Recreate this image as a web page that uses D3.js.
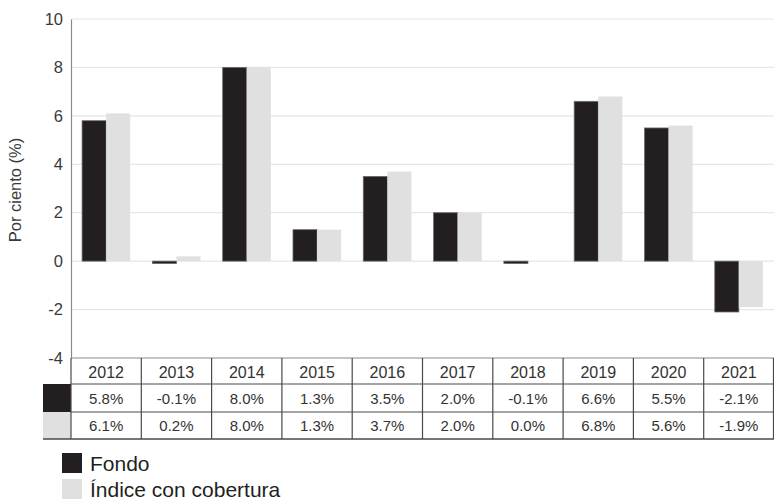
<!DOCTYPE html>
<html><head><meta charset="utf-8">
<script src="https://cdn.jsdelivr.net/npm/d3@7"></script>
<style>body{margin:0;background:#fff}svg{display:block;font-family:Arial,"Liberation Sans",sans-serif}</style>
</head><body>
<svg id="c" width="774" height="500"></svg>
<script>
const years = ["2012","2013","2014","2015","2016","2017","2018","2019","2020","2021"];
const fondo = [5.8,-0.1,8.0,1.3,3.5,2.0,-0.1,6.6,5.5,-2.1];
const indice = [6.1,0.2,8.0,1.3,3.7,2.0,0.0,6.8,5.6,-1.9];
const yTicks = [-4,-2,0,2,4,6,8,10];
const seriesNames = ["Fondo","Índice con cobertura"];
const colors = ["#231f20","#e0e0e0"];

(function(){
const svg = d3.select("#c");
const pLeft = 71, pRight = 774, pTop = 19, pBottom = 358;
const x = d3.scaleBand().domain(years).range([pLeft, pRight]);
const y = d3.scaleLinear().domain([-4,10]).range([pBottom, pTop]);
const inner = d3.scaleBand().domain([0,1]).range([0, x.bandwidth()]).paddingOuter(0.46).paddingInner(0);
const fmtTick = d => String(d).replace("\u2212","-");
const fmtVal = d => d3.format(".1f")(d).replace("\u2212","-") + "%";

// grid
svg.append("g").selectAll("line").data(yTicks.filter(t=>t>-4)).join("line")
  .attr("x1", pLeft).attr("x2", pRight).attr("y1", d=>y(d)).attr("y2", d=>y(d))
  .attr("stroke", "#e6e6e6").attr("stroke-width", 1.2);

// bars
const series = [fondo, indice];
series.forEach((vals, si) => {
  svg.append("g").selectAll("rect").data(vals).join("rect")
    .attr("x", (d,i)=>x(years[i]) + inner(si))
    .attr("width", inner.bandwidth())
    .attr("y", d=>y(Math.max(0,d)))
    .attr("height", d=>Math.abs(y(d)-y(0)))
    .attr("fill", colors[si])
    .attr("stroke", si===0 ? "#6e6b6b" : "none")
    .attr("stroke-width", si===0 ? 0.8 : 0);
});

// y axis
const yAxis = d3.axisLeft(y).tickValues(yTicks).tickSize(0).tickPadding(8).tickFormat(fmtTick);
const ga = svg.append("g").attr("transform", `translate(${pLeft},0)`).call(yAxis);
ga.select(".domain").attr("stroke", "#8a8a8a").attr("stroke-width", 1.2);
ga.selectAll("text").attr("font-size", 16.5).attr("fill", "#3a3a3a").attr("font-family","Arial,'Liberation Sans',sans-serif");

svg.append("text").attr("transform", "translate(21,190) rotate(-90)")
  .attr("text-anchor","middle").attr("font-size",16.5).attr("fill","#3a3a3a").text("Por ciento (%)");

// table
const rowY = [358, 384, 412, 439];
const tbl = svg.append("g");
colors.forEach((c,i)=>{
  tbl.append("rect").attr("x",43).attr("y",rowY[i+1]).attr("width",pLeft-43).attr("height",rowY[i+2]-rowY[i+1]).attr("fill",c);
});
tbl.selectAll("text.h").data(years).join("text").attr("class","h")
  .attr("x", d=>x(d)+x.bandwidth()/2).attr("y", (rowY[0]+rowY[1])/2+6.5)
  .attr("text-anchor","middle").attr("font-size",16).attr("fill","#333").text(d=>d);
series.forEach((vals, si)=>{
  tbl.append("g").selectAll("text").data(vals).join("text")
    .attr("x", (d,i)=>x(years[i])+x.bandwidth()/2).attr("y", (rowY[si+1]+rowY[si+2])/2+5.5)
    .attr("text-anchor","middle").attr("font-size",15).attr("fill","#333")
    .text(fmtVal);
});
const lc = "#4a4a4a";
tbl.append("line").attr("x1",pLeft).attr("x2",pRight).attr("y1",rowY[0]).attr("y2",rowY[0]).attr("stroke","#8a8a8a").attr("stroke-width",1.2);
[rowY[1],rowY[2]].forEach(yy=>tbl.append("line").attr("x1",pLeft).attr("x2",pRight).attr("y1",yy).attr("y2",yy).attr("stroke",lc).attr("stroke-width",1.2));
tbl.append("line").attr("x1",43).attr("x2",pRight).attr("y1",rowY[3]).attr("y2",rowY[3]).attr("stroke",lc).attr("stroke-width",1.4);
tbl.selectAll("line.v").data(years.concat(["end"])).join("line").attr("class","v")
  .attr("x1", d=> d==="end" ? pRight-0.5 : x(d)).attr("x2", d=> d==="end" ? pRight-0.5 : x(d))
  .attr("y1", rowY[0]).attr("y2", rowY[3]).attr("stroke", lc).attr("stroke-width",1.2);

// legend
const lg = svg.append("g");
seriesNames.forEach((n,i)=>{
  const yy = 453 + i*26;
  lg.append("rect").attr("x",62).attr("y",yy).attr("width",20).attr("height",20).attr("fill",colors[i]);
  lg.append("text").attr("x",90).attr("y",yy+18).attr("font-size",21).attr("fill","#231f20").text(n);
});
})();
</script>
</body></html>
